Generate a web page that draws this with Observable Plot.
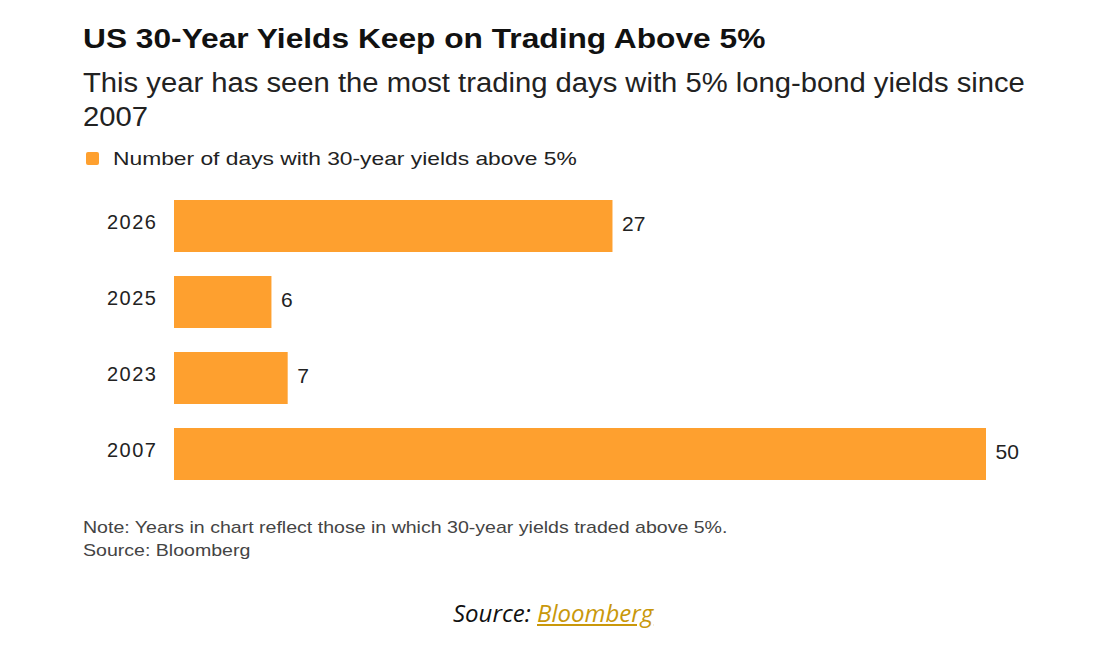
<!DOCTYPE html>
<html><head><meta charset="utf-8">
<script src="https://cdn.jsdelivr.net/npm/d3@7"></script>
<script src="https://cdn.jsdelivr.net/npm/@observablehq/plot@0.6"></script>
<style>
body{margin:0;background:#fff;width:1120px;height:654px;overflow:hidden;font-family:"Liberation Sans",Arial,sans-serif;}
#wrap{position:relative;width:1120px;height:654px;}
.t{position:absolute;white-space:nowrap;line-height:1;transform-origin:0 0;}
#chart{position:absolute;left:0;top:170px;}
#title{left:83px;top:26px;font-size:27px;font-weight:bold;color:#111;transform:scaleX(1.174);}
#sub{left:83px;top:66px;font-size:27px;line-height:34px;color:#222;transform:scaleX(1.082);}
#sw{position:absolute;left:86px;top:152px;width:13px;height:13px;background:#fea02f;border-radius:2px;}
#legend{left:113px;top:149px;font-size:19px;color:#222;transform:scaleX(1.2);}
#note{left:83px;top:516px;font-size:17px;line-height:23px;color:#444;transform:scaleX(1.15);}
#src{left:453px;top:601px;font-size:24px;font-style:italic;font-family:"Open Sans",sans-serif;color:#111;}
#src a{color:#c9980b;text-decoration:underline;}
#chart g[aria-label="y-axis tick label"] text{letter-spacing:1.5px;}
</style></head><body><div id="wrap">
<div class="t" id="title">US 30-Year Yields Keep on Trading Above 5%</div>
<div class="t" id="sub">This year has seen the most trading days with 5% long-bond yields since<br>2007</div>
<div id="sw"></div>
<div class="t" id="legend">Number of days with 30-year yields above 5%</div>
<div id="chart"></div>
<div class="t" id="note">Note: Years in chart reflect those in which 30-year yields traded above 5%.<br>Source: Bloomberg</div>
<div class="t" id="src">Source: <a href="#">Bloomberg</a></div>
</div>
<script>
const years = ["2026", "2025", "2023", "2007"];
const days = [27, 6, 7, 50];
const data = years.map((y, i) => ({year: y, days: days[i]}));

const chart = Plot.plot({
  width: 1120,
  height: 340,
  marginTop: 6,
  marginBottom: 6,
  marginLeft: 174,
  marginRight: 134,
  x: {domain: [0, 50], axis: null},
  y: {domain: years, padding: 0.31},
  style: {fontFamily: "Liberation Sans, Arial, sans-serif", background: "transparent", color: "#222"},
  marks: [
    Plot.barX(data, {x: "days", y: "year", fill: "#fea02f"}),
    Plot.text(data, {x: "days", y: "year", text: d => String(d.days), textAnchor: "start", dx: 9, dy: -2, fontSize: 21, fill: "#222"}),
    Plot.axisY({tickSize: 0, tickPadding: 17, fontSize: 20, dy: -4, label: null})
  ]
});
document.getElementById("chart").appendChild(chart);
</script>
</body></html>
